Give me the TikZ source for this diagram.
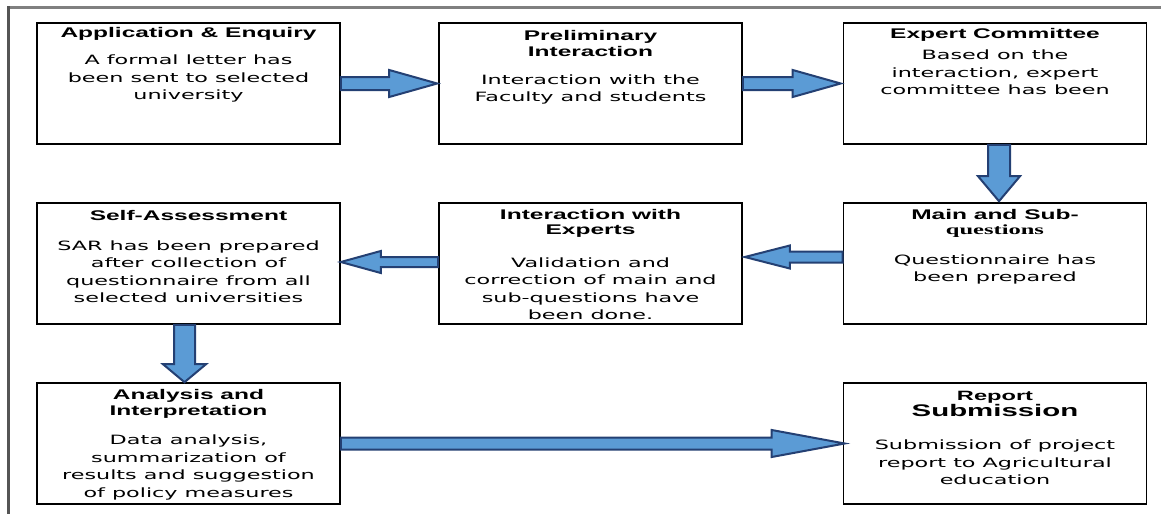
\documentclass[tikz,border=0pt]{standalone}
\usepackage{fontspec}
\usetikzlibrary{calc}
\newfontfamily\bodyfont[FakeStretch=1.74]{DejaVu Sans}
\newfontfamily\titlefont[FakeStretch=1.75]{Liberation Sans}
\newfontfamily\serifttl[FakeStretch=1.75]{Liberation Serif}
\definecolor{arrfill}{RGB}{91,155,213}
\definecolor{arrline}{RGB}{36,64,115}
\definecolor{frameA}{RGB}{128,128,128}
\definecolor{frameB}{RGB}{85,85,85}
\newcommand{\blockarrow}[7]{%
 \draw[barrow]
 ($(#1)+({-(#4)*(#5)},{(#3)*(#5)})$) --
 ($(#2)+({-(#3)*(#7)-(#4)*(#5)},{-(#4)*(#7)+(#3)*(#5)})$) --
 ($(#2)+({-(#3)*(#7)-(#4)*(#6)},{-(#4)*(#7)+(#3)*(#6)})$) --
 (#2) --
 ($(#2)+({-(#3)*(#7)+(#4)*(#6)},{-(#4)*(#7)-(#3)*(#6)})$) --
 ($(#2)+({-(#3)*(#7)+(#4)*(#5)},{-(#4)*(#7)-(#3)*(#5)})$) --
 ($(#1)+({(#4)*(#5)},{-(#3)*(#5)})$) -- cycle;}
\begin{document}
\begin{tikzpicture}[x=1pt,y=-1pt,
 box/.style={draw=black, line width=1.6pt, minimum width=303pt, minimum height=121pt, inner sep=0pt},
 ttl/.style={align=center, font=\titlefont\bfseries\fontsize{14}{15.5}\selectfont, inner sep=0pt},
 bdy/.style={align=center, font=\bodyfont\fontsize{12.8}{17.5}\selectfont, inner sep=0pt},
 barrow/.style={fill=arrfill, draw=arrline, line width=2pt, line join=miter}]
\useasboundingbox[fill=white] (0,0) rectangle (1161,514);
\draw[line width=3pt, frameA] (7,7.5) -- (1161,7.5);
\draw[line width=3pt, frameB] (8.5,6) -- (8.5,514);
% boxes
\node[box] (app) at (188.5,83.5) {};
\node[box] (pre) at (590.5,83.5) {};
\node[box] (exp) at (995,83.5) {};
\node[box] (sa) at (188.5,263.5) {};
\node[box] (iwe) at (590.5,263.5) {};
\node[box] (mq) at (995,263.5) {};
\node[box] (ai) at (188.5,443.5) {};
\node[box] (rs) at (995,443.5) {};
% texts
\node[ttl] (appT) at (188.5,34) {Application \& Enquiry};
\node[bdy] (appB) at (188.5,78.5) {A formal letter has\\been sent to selected\\university};
\node[ttl] (preT) at (590.5,43.5) {Preliminary\\Interaction};
\node[bdy] (preB) at (590.5,89.5) {Interaction with the\\Faculty and students};
\node[ttl] (expT) at (995,35) {Expert Committee};
\node[bdy] (expB) at (995,72.5) {Based on the\\interaction, expert\\committee has been};
\node[ttl] (saT) at (188.5,215) {Self-Assessment};
\node[bdy] (saB) at (188.5,271.5) {SAR has been prepared\\after collection of\\questionnaire from all\\selected universities};
\node[ttl] (iweT) at (590.5,223.5) {Interaction with\\Experts};
\node[bdy] (iweB) at (590.5,288.5) {Validation and\\correction of main and\\sub-questions have\\been done.};
\node[ttl] (mqT) at (995,223.5) {Main and Sub-\\{\serifttl\bfseries questions}};
\node[bdy] (mqB) at (995,269.5) {Questionnaire has\\been prepared};
\node[ttl] (aiT) at (188.5,404) {Analysis and\\Interpretation};
\node[bdy] (aiB) at (188.5,467.5) {Data analysis,\\summarization of\\results and suggestion\\of policy measures};
\node[ttl] (rsT) at (995,404) {{\fontsize{13.5}{15}\selectfont Report}\\{\fontsize{16.8}{17}\selectfont Submission}};
\node[bdy] (rsB) at (995,462.5) {Submission of project\\report to Agricultural\\education};
% arrow end points
\coordinate (t1) at ($(pre.west)+(-1,0)$);
\coordinate (t2) at ($(exp.west)+(-2,0)$);
\coordinate (s3) at ($(exp.south)+(4,0)$);
\coordinate (t3) at ($(mq.north)+(4,-1)$);
\coordinate (s4) at ($(mq.west)+(0,-6.5)$);
\coordinate (t4) at ($(iwe.east)+(2,-6.5)$);
\coordinate (s5) at ($(iwe.west)+(0,-1.5)$);
\coordinate (t5) at ($(sa.east)+(0,-1.5)$);
\coordinate (s6) at ($(sa.south)+(-4,0)$);
\coordinate (t6) at ($(ai.north)+(-4,0)$);
\coordinate (t7) at ($(rs.west)+(2,0)$);
% arrows
\blockarrow{app.east}{t1}{1}{0}{6.5}{13.5}{48}
\blockarrow{pre.east}{t2}{1}{0}{6.5}{13.5}{48}
\blockarrow{s3}{t3}{0}{1}{11}{21}{25}
\blockarrow{s4}{t4}{-1}{0}{5.5}{11.5}{45}
\blockarrow{s5}{t5}{-1}{0}{5}{11}{40}
\blockarrow{s6}{t6}{0}{1}{10.5}{21.5}{18}
\blockarrow{ai.east}{t7}{1}{0}{6}{13.5}{73}
\end{tikzpicture}
\end{document}
